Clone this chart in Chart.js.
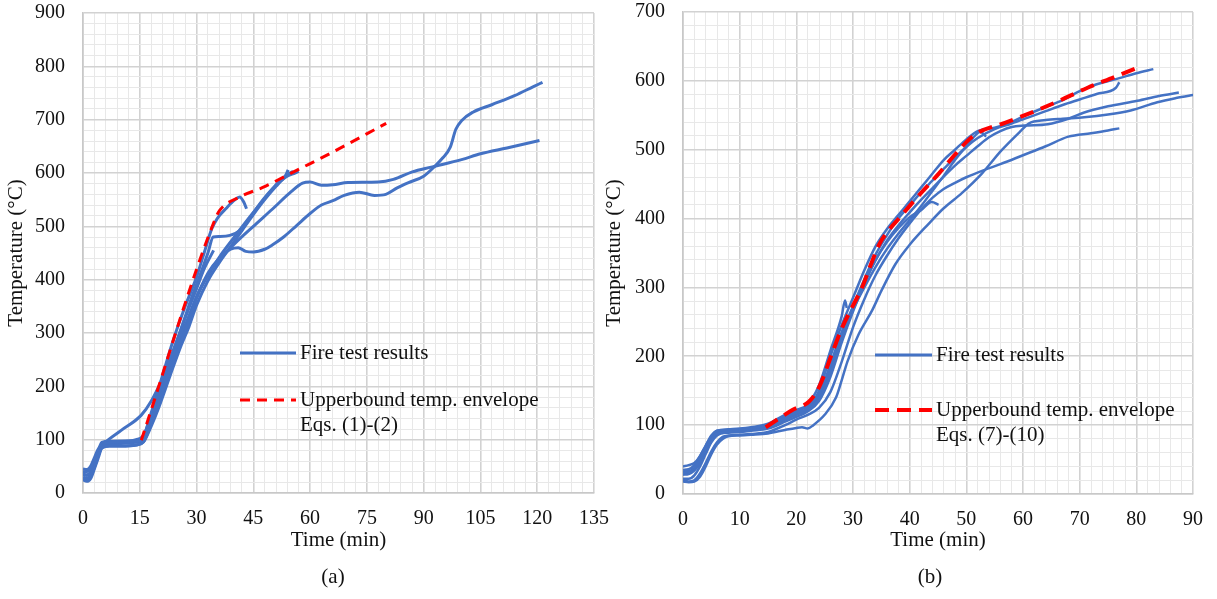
<!DOCTYPE html>
<html>
<head>
<meta charset="utf-8">
<script src="https://cdn.jsdelivr.net/npm/chart.js@4.4.1/dist/chart.umd.min.js"></script>
<style>
  html, body { margin: 0; padding: 0; background: #fff; }
  .wrap { position: relative; width: 1217px; height: 599px; }
  .wrap canvas { position: absolute; left: 0; top: 0; }
</style>
</head>
<body>
<div class="wrap">
  <canvas id="chart-a" width="1217" height="599"></canvas>
  <canvas id="chart-b" width="1217" height="599"></canvas>
</div>
<script>
// ---- (a) fire test curves, [time (min), temperature (°C)]
const testA1 = [[0,30],[1,27],[2,33],[3,50],[4,70],[5,84],[7,88],[10,88],[14,90],[16,96],[18,130],[20,170],[23,230],[26,285],[28,322],[30,365],[33,412],[36,440],[39,457],[41,460],[43,453],[45,452],[48,457],[50,465],[53,480],[56.5,502],[60,524],[63,540],[66,548],[69,558],[73,564],[77,558],[80,560],[83,572],[86,582],[90,594],[93,613],[95,628],[97,648],[98.5,682],[100,698],[103,714],[108,728],[114,745],[119,762],[121.4,770]];
const testA2 = [[0,25],[1,22],[2,27],[3,45],[4,65],[5,86],[7,95],[10,96],[14,97],[16,100],[18,138],[20,178],[23,238],[26,298],[28,330],[31,383],[34,420],[37,445],[40,467],[45,500],[50,532],[55,565],[58,581],[60,583],[63,577],[66,578],[70,582],[78,583],[82,588],[87,602],[92,611],[100,625],[105,636],[112,647],[120.6,661]];
const testA3 = [[0,40],[1,40],[2,45],[3,62],[4,80],[5,95],[7,97],[10,97],[14,100],[16,108],[18,145],[20,185],[23,250],[26,310],[29,372],[31,410],[33,450],[34.4,480],[36,481],[38.8,483],[41.4,492],[44,515],[47,545],[50,570],[53.7,593],[56,600],[57,603]];
const testA4 = [[0,35],[1,33],[2,40],[3,58],[4,76],[5,92],[7,96],[10,97],[14,98],[15.5,100],[18,150],[21,220],[24,290],[27,350],[30,405],[32,450],[34,495],[35.5,515],[38,535],[40,549],[41.4,555],[42.5,545],[43.2,533]];
const testA5 = [[0,45],[1,44],[2,50],[3,66],[4,82],[6,96],[10,117],[15.4,146],[18,172],[21,215],[24,268],[27,328],[30,383],[32,420],[34.5,455]];
const testA6 = [[0,28],[1,25],[2,30],[3,48],[4,70],[5,86],[7,88],[10,88],[14,90],[16,96],[18,125],[20,160],[23,220],[26,278],[28,312],[30,352],[33,398],[36,432],[39,462],[42,492],[45,522],[48,550],[51,575],[54,597],[55.5,603]];
const testA7 = [[0,35],[1,34],[2,38],[3,55],[4,72],[5,90],[7,92],[10,93],[14,95],[16,99],[18,135],[20,175],[23,235],[26,295],[28,332],[30,368],[33,408],[36,442],[40,480],[44,517],[48,552],[51,578],[53.5,595],[54.2,606]];
const envelopeA = [[15.4,99],[35,515],[36.1,530],[41.4,555],[47.5,573],[57.3,608],[64.3,633],[80.1,693]];

// ---- (b) fire test curves
const testB1 = [[0,30],[1,32],[2,38],[3,50],[4,65],[5,80],[6,88],[8,90],[10,92],[12,95],[15,100],[18,110],[20,118],[22,125],[24,150],[26,200],[28,245],[30,285],[32,325],[34,360],[36,385],[38,405],[40,425],[42,445],[44,465],[46,485],[48,500],[50,515],[52,527],[55,532],[57,537],[61,552],[64,562],[67,572],[70,585],[73,595],[77,604],[80,611],[83,617]];
const testB2 = [[0,22],[1,22],[2,27],[3,40],[4,58],[5,75],[6,85],[8,90],[10,91],[12,93],[15,97],[18,108],[20,115],[22,122],[24,138],[26,175],[28,225],[30,272],[32,312],[34,348],[36,376],[38,400],[40,419],[42,438],[44,455],[46,472],[48,489],[50,504],[52,517],[55,530],[58,538],[61,547],[64,556],[67,565],[70,573],[73,581],[76.4,590],[77,598]];
const testB3 = [[0,35],[1,36],[2,42],[3,55],[4,70],[5,84],[6,92],[8,93],[10,94],[12,96],[15,100],[18,112],[20,120],[22,128],[24,145],[26,188],[28,235],[30,272],[32,308],[34,340],[36,368],[38,390],[40,409],[42,427],[44,444],[46,461],[48,477],[50,491],[52,505],[54,518],[56,527],[58,533],[60.3,535],[64.4,537],[68,545],[70.8,554],[75,563],[80.2,571],[84,578],[87.5,583]];
const testB4 = [[0,18],[1,17],[2,18],[3,25],[4,40],[5,58],[6,72],[7,80],[8,84],[10,85],[12,86],[15,88],[18,93],[20,96],[21,97],[22,95],[23,100],[25,115],[27,140],[28,165],[29,192],[31,232],[33.4,267],[35,295],[37.5,334],[40,362],[43.3,392],[46,415],[49.2,437],[52.7,465],[56.2,499],[59.7,528],[61,538],[64,543],[67,545],[70.8,547],[75,551],[79,557],[83.7,569],[87,575],[90.4,580]];
const testB5 = [[0,20],[1,18],[2,20],[3,30],[4,45],[5,62],[6,75],[7,83],[8,85],[10,86],[12,87],[15,90],[18,100],[20,108],[22,115],[24,125],[26,148],[28,192],[30,242],[32,283],[34,318],[36,346],[38,371],[40,393],[42,413],[44,430],[46,443],[48,452],[50,460],[53,470],[56,479],[60,492],[64,505],[68,519],[72,524],[75,528],[77,531]];
const testB6 = [[0,28],[1,29],[2,34],[3,45],[4,62],[5,78],[6,87],[8,89],[10,90],[12,92],[15,95],[18,105],[20,112],[22,120],[24,135],[26,170],[28,220],[30,265],[32,305],[34,340],[36,366],[38,386],[40,402],[42,412],[43.9,424],[45.1,420]];
const testB7 = [[0,40],[1,42],[2,45],[3,55],[4,70],[5,85],[6,92],[8,94],[10,95],[12,97],[15,102],[18,115],[20,122],[22,130],[24,158],[26,208],[28,258],[28.6,281],[28.9,270]];
const testB8 = [[0,32],[1,33],[2,36],[3,48],[4,64],[5,82],[6,90],[8,92],[10,93],[12,94],[15,98],[18,108],[20,116],[22,124],[24,142],[26,182],[28,230],[30,268],[32,300],[34,330],[36,356],[38,378],[40,398],[42,418],[44,440],[46,462],[48,485],[50,505],[51.5,520],[52.4,526],[53.5,519]];
const envelopeB = [[14.6,97],[17,110],[19.3,122],[22.2,134],[24,155],[26.3,204],[28.1,242],[29.9,272],[31.6,300],[33,330],[34.6,362],[36,380],[38.1,400],[41,428],[45.1,465],[48,493],[50.5,515],[52.1,525],[56.8,539],[60.9,552],[66.1,570],[71.4,590],[76,605],[80.2,619]];

const BLUE = '#4472C4';
const RED = '#FF0000';
const SERIF = '"Liberation Serif", "Times New Roman", serif';

const toXY = pts => pts.map(p => ({ x: p[0], y: p[1] }));

function blueSet(pts, w) {
    return {
        data: toXY(pts),
        borderColor: BLUE,
        borderWidth: w,
        pointRadius: 0,
        showLine: true,
        cubicInterpolationMode: 'monotone',
        order: 1,
    };
}

function redSet(pts, w, dash) {
    return {
        data: toXY(pts),
        borderColor: RED,
        borderWidth: w,
        borderDash: dash,
        pointRadius: 0,
        showLine: true,
        cubicInterpolationMode: 'monotone',
        order: 0,
    };
}

// legend + sub caption drawn inside the plot area
function overlay(cfg) {
    return {
        id: 'overlay',
        afterDraw(chart) {
            const ctx = chart.ctx;
            ctx.save();
            ctx.font = '21px ' + SERIF;
            ctx.textBaseline = 'middle';
            ctx.fillStyle = '#111';
            cfg.items.forEach(item => {
                ctx.beginPath();
                ctx.strokeStyle = item.color;
                ctx.lineWidth = item.width;
                ctx.setLineDash(item.dash || []);
                ctx.moveTo(cfg.x, item.y);
                ctx.lineTo(cfg.x + cfg.len, item.y);
                ctx.stroke();
                ctx.setLineDash([]);
                item.text.forEach((t, i) => ctx.fillText(t, cfg.x + cfg.len + 4, item.y + i * 25));
            });
            ctx.textAlign = 'center';
            ctx.fillText(cfg.caption, cfg.capX, 577);
            ctx.restore();
        }
    };
}

function makeOptions(s) {
    return {
        responsive: false,
        animation: false,
        layout: { padding: { left: s.padLeft, right: s.padRight, top: s.padTop, bottom: 0 } },
        plugins: { legend: { display: false }, tooltip: { enabled: false } },
        scales: {
            x: {
                type: 'linear', min: 0, max: s.xMax,
                afterFit: scale => { scale.height = s.xHeight; },
                ticks: {
                    stepSize: s.xMinor, autoSkip: false, maxRotation: 0, padding: 14,
                    color: '#111', font: { family: SERIF, size: 20 },
                    callback: v => (v % s.xMajor === 0 ? v : ''),
                },
                grid: {
                    drawTicks: false,
                    color: c => (c.tick && c.tick.value % s.xMajor === 0 ? '#d2d2d2' : '#e8e8e8'),
                    lineWidth: c => (c.tick && c.tick.value % s.xMajor === 0 ? 1.6 : 1),
                },
                border: { color: '#c8c8c8', width: 1.6 },
                title: {
                    display: true, text: 'Time (min)', color: '#111',
                    font: { family: SERIF, size: 21 }, padding: { top: 0, bottom: 46 },
                },
            },
            y: {
                type: 'linear', min: 0, max: s.yMax,
                afterFit: scale => {
                    scale.width = s.yWidth;
                    scale.paddingTop = 0;
                    scale.paddingBottom = 0;
                },
                ticks: {
                    stepSize: 20, autoSkip: false, padding: 18,
                    color: '#111', font: { family: SERIF, size: 20 },
                    callback: v => (v % 100 === 0 ? v : ''),
                },
                grid: {
                    drawTicks: false,
                    color: c => (c.tick && c.tick.value % 100 === 0 ? '#d2d2d2' : '#e8e8e8'),
                    lineWidth: c => (c.tick && c.tick.value % 100 === 0 ? 1.6 : 1),
                },
                border: { color: '#c8c8c8', width: 1.6 },
                title: {
                    display: true, text: 'Temperature (°C)', color: '#111',
                    font: { family: SERIF, size: 21 }, padding: { top: s.yTitlePad, bottom: 0 },
                },
            },
        },
    };
}

const chartA = new Chart(document.getElementById('chart-a'), {
    type: 'scatter',
    data: {
        datasets: [
            redSet(envelopeA, 3, [10, 7]),
            blueSet(testA1, 3), blueSet(testA2, 3), blueSet(testA3, 3), blueSet(testA4, 3),
            blueSet(testA5, 3), blueSet(testA6, 3), blueSet(testA7, 3),
        ]
    },
    options: makeOptions({
        padLeft: 0, padRight: 623, padTop: 13, xMax: 135, xMinor: 3, xMajor: 15,
        yMax: 900, yWidth: 83, xHeight: 106, yTitlePad: 4,
    }),
    plugins: [overlay({
        x: 240, len: 56, capX: 333, caption: '(a)',
        items: [
            { y: 353, color: BLUE, width: 3, text: ['Fire test results'] },
            { y: 400, color: RED, width: 3, dash: [10, 7], text: ['Upperbound temp. envelope', 'Eqs. (1)-(2)'] },
        ]
    })],
});

const chartB = new Chart(document.getElementById('chart-b'), {
    type: 'scatter',
    data: {
        datasets: [
            redSet(envelopeB, 4, [14, 8]),
            blueSet(testB1, 2.5), blueSet(testB2, 2.5), blueSet(testB3, 2.5), blueSet(testB4, 2.5),
            blueSet(testB5, 2.5), blueSet(testB6, 2.5), blueSet(testB7, 2.5), blueSet(testB8, 2.5),
        ]
    },
    options: makeOptions({
        padLeft: 602, padRight: 21, padTop: 12, xMax: 90, xMinor: 2, xMajor: 10,
        yMax: 700, yWidth: 81, xHeight: 105, yTitlePad: 0,
    }),
    plugins: [overlay({
        x: 875, len: 57, capX: 930, caption: '(b)',
        items: [
            { y: 355, color: BLUE, width: 3, text: ['Fire test results'] },
            { y: 410, color: RED, width: 4, dash: [14, 8], text: ['Upperbound temp. envelope', 'Eqs. (7)-(10)'] },
        ]
    })],
});
</script>
</body>
</html>
